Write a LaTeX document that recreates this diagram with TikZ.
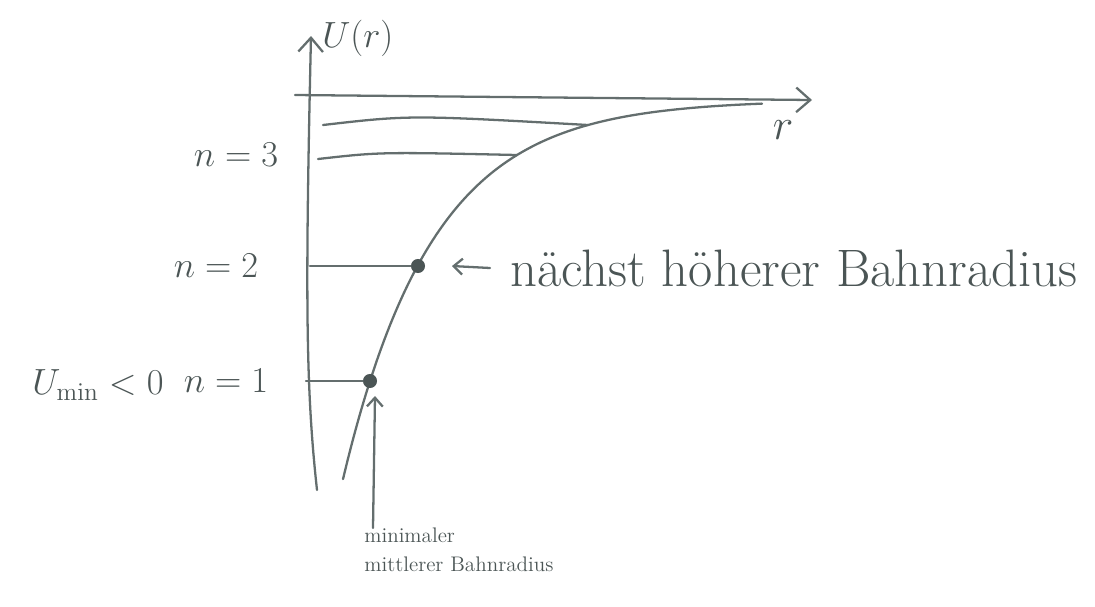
\documentclass[tikz,border=0pt]{standalone}
\usetikzlibrary{arrows.meta,positioning}
\begin{document}
\begin{tikzpicture}[x=0.02cm,y=-0.02cm]
    \definecolor{mypencil}{RGB}{100,110,110}
    \definecolor{myink}{RGB}{75,85,85}
    \tikzset{
        pencil/.style={mypencil, line width=1.3pt, line cap=round},
        hand/.style={myink, inner sep=0pt, font=\itshape},
        leveldot/.style={circle, fill=myink, inner sep=0pt, minimum size=8pt},
        barb/.style={-{Straight Barb[length=8pt,width=14pt]}}
    }
    \useasboundingbox (0,0) rectangle (1095,606);

    \coordinate (ybot) at (317,490);
    \coordinate (ytop) at (311,36);
    \coordinate (xleft) at (295,95);
    \coordinate (xright) at (812,100);
    \draw[pencil, barb] (ybot) .. controls (306,390) and (305,300) .. (ytop);
    \draw[pencil, barb] (xleft) -- (xright);

    \node[hand, font=\fontsize{20}{24}\selectfont, anchor=west] (ulabel) at (322,38) {$U(r)$};
    \node[hand, font=\fontsize{24}{28}\selectfont] (rlabel) at (783,130) {$r$};

    \draw[pencil] plot[domain=343:762, samples=90, smooth] (\x, {100+281*exp(-0.0111*(\x-370))});

    \node[leveldot] (dot1) at (370,381) {};
    \node[leveldot] (dot2) at (418,266) {};
    \coordinate (c3) at (517,155);
    \coordinate (c4) at (588,125);

    \coordinate (a1) at (306,381);
    \coordinate (a2) at (310,266);
    \coordinate (a3) at (318,159);
    \coordinate (a4) at (323,125);
    \draw[pencil] (a1) -- (dot1);
    \draw[pencil] (a2) -- (dot2);
    \draw[pencil] (a3) .. controls (380,152) .. (c3);
    \draw[pencil] (a4) .. controls (410,115) .. (c4);

    \node[hand, font=\fontsize{22}{26}\selectfont] (n3) at (236,155) {$n=3$};
    \node[hand, font=\fontsize{22}{26}\selectfont] (n2) at (216,266) {$n=2$};
    \node[hand, font=\fontsize{22}{26}\selectfont] (n1) at (226,381) {$n=1$};
    \node[hand, font=\fontsize{22}{26}\selectfont] (umin) at (98,385) {$U_{\mathrm{min}}<0$};

    \node[hand, font=\fontsize{30}{34}\selectfont, anchor=west] (naechst) at (510,268) {nächst höherer Bahnradius};
    \draw[pencil, -{Straight Barb[length=5pt,width=9pt]}] (naechst.west) ++(-20,0) coordinate (p2) -- (452,266);

    \node[hand, font=\fontsize{12}{16.5}\selectfont, anchor=north west, align=left] (minimal) at (364,528) {minimaler\\mittlerer Bahnradius};
    \draw[pencil, -{Straight Barb[length=5pt,width=9pt]}] (minimal.north west) ++(9,0) coordinate (p1) -- (375,396);
\end{tikzpicture}
\end{document}
